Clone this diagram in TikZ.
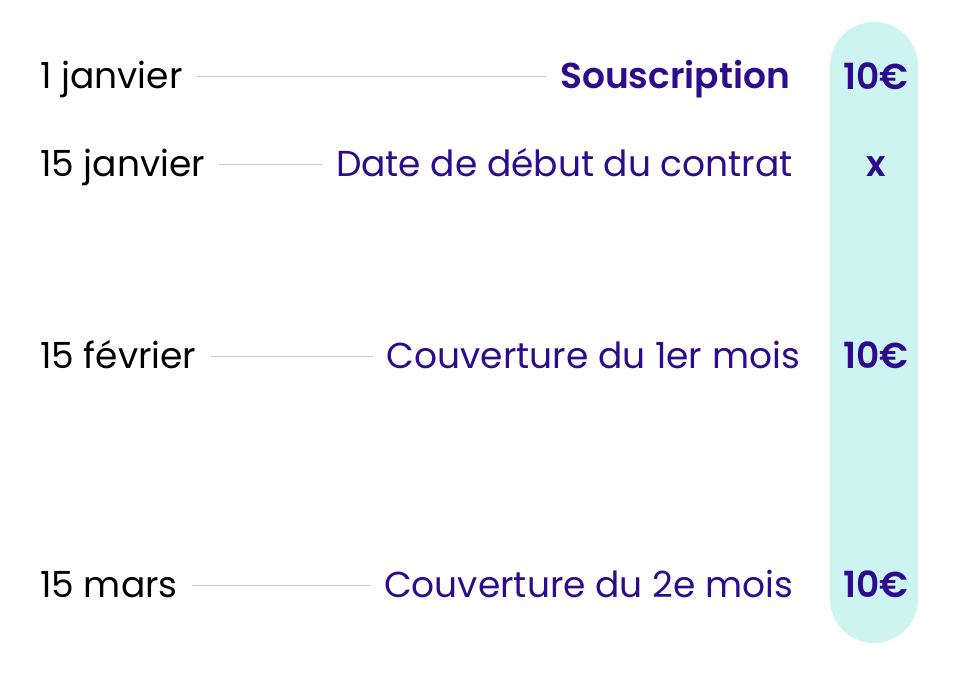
\documentclass[tikz,border=0pt]{standalone}
\usepackage{fontspec}
\setmainfont{Poppins}[BoldFont={* SemiBold}]
\usepackage{tikz}
\usetikzlibrary{calc}
\definecolor{violet}{HTML}{2E0A8C}
\definecolor{menthe}{HTML}{CDF4F1}
\definecolor{trait}{HTML}{C8C8C8}
\tikzset{
  date/.style={anchor=base west,inner xsep=14pt,inner ysep=0pt,text height=29pt,text depth=6pt,font=\fontsize{36}{36}\selectfont,text=black},
  etape/.style={anchor=base east,inner xsep=14pt,inner ysep=0pt,text height=29pt,text depth=6pt,font=\fontsize{36}{36}\selectfont,text=violet},
  montant/.style={anchor=base,font=\fontsize{36}{36}\selectfont\bfseries,text=violet},
  ligne/.style={draw=trait,line width=1pt}
}

\begin{document}
\begin{tikzpicture}[x=1pt,y=-1pt]
      \useasboundingbox (0,0) rectangle (960,672);
      \fill[menthe,rounded corners=44pt] (830,22) rectangle (918,643);
      % dates
      \node[date] (d1) at (26,88) {1 janvier};
      \node[date] (d2) at (26,176) {15 janvier};
      \node[date] (d3) at (26,368) {15 février};
      \node[date] (d4) at (26,597) {15 mars};
      % etapes
      \node[etape,font=\fontsize{36}{36}\selectfont\bfseries] (e1) at (804,88) {Souscription};
      \node[etape] (e2) at (807,176) {Date de début du contrat};
      \node[etape] (e3) at (814,368) {Couverture du 1er mois};
      \node[etape] (e4) at (807,597) {Couverture du 2e mois};
      \foreach \i in {1,...,4} {
        \path[ligne] (d\i) edge (e\i);
      }
      % montants
      \node[montant] (m1) at (876,89) {10€};
      \node[montant] (m2) at (876,176) {x};
      \node[montant] (m3) at (876,368) {10€};
      \node[montant] (m4) at (876,597) {10€};
    \end{tikzpicture}
\end{document}
